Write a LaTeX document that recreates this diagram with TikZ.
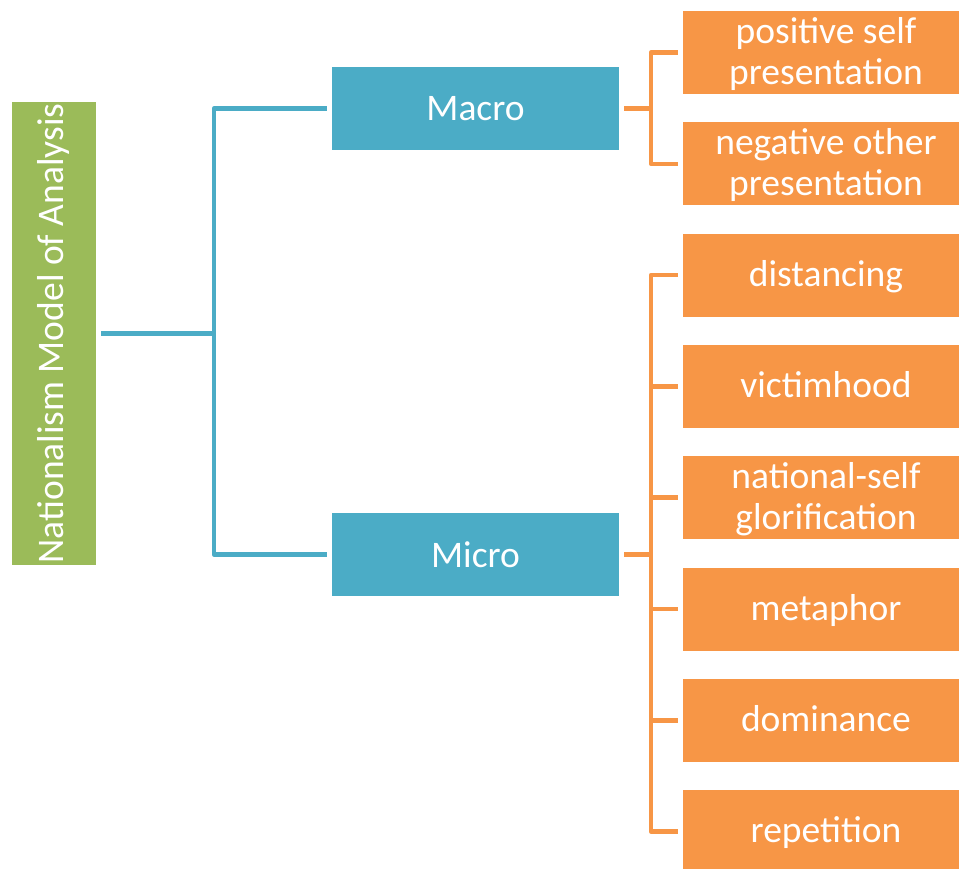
\documentclass[tikz,border=0pt]{standalone}
\usepackage{fontspec}
\setmainfont{Carlito}
\definecolor{cgreen}{HTML}{9BBB59}
\definecolor{cblue}{HTML}{4BACC6}
\definecolor{corange}{HTML}{F79646}
\newcommand\otxt[1]{\raisebox{-3pt}[\height][\depth]{\begin{tabular}{@{}c@{}}#1\end{tabular}}}
\begin{document}
\begin{tikzpicture}[x=1pt,y=-1pt,
  box/.style={rectangle, inner sep=0pt, text=white, align=center,
    font=\fontsize{37.5}{41}\selectfont},
  greenbox/.style={box, fill=cgreen, minimum width=84pt, minimum height=463pt},
  bluebox/.style={box, fill=cblue, minimum width=287pt, minimum height=83pt},
  orangebox/.style={box, fill=corange, minimum width=286pt, minimum height=83pt},
  bline/.style={draw=cblue, line width=4.5pt, line join=round},
  oline/.style={draw=corange, line width=4.5pt, line join=round}]
\useasboundingbox (0,0) rectangle (959,869);
\node[greenbox] (green) at (54,333.5) {};
\node[rotate=90, text=white, font=\fontsize{37.5}{41}\selectfont] (greentext) at (green.center) {Nationalism Model of Analysis};
\node[bluebox] (macro) at (475.5,108.5) {Macro};
\node[bluebox] (micro) at (475.5,554.5) {Micro};
\node[orangebox] (o1) at (826,52.5) {\otxt{positive self\\presentation}};
\node[orangebox] (o2) at (826,163.8) {\otxt{negative other\\presentation}};
\node[orangebox] (o3) at (826,275.1) {\otxt{distancing}};
\node[orangebox] (o4) at (826,386.4) {\otxt{victimhood}};
\node[orangebox] (o5) at (826,497.7) {\otxt{national-self\\glorification}};
\node[orangebox] (o6) at (826,609) {\otxt{metaphor}};
\node[orangebox] (o7) at (826,720.3) {\otxt{dominance}};
\node[orangebox] (o8) at (826,831.6) {\otxt{repetition}};
% blue connectors
\coordinate (bj) at (214,333.5);
\draw[bline, shorten <=5pt] (green.east) -- (bj);
\draw[bline, shorten >=5pt] (bj) |- (macro.west);
\draw[bline, shorten >=5pt] (bj) |- (micro.west);
% orange connectors
\coordinate (oj1) at (651,108.5);
\coordinate (oj2) at (651,554.5);
\draw[oline, shorten <=5pt] (macro.east) -- (oj1);
\draw[oline, shorten >=5pt] (oj1) |- (o1.west);
\draw[oline, shorten >=5pt] (oj1) |- (o2.west);
\draw[oline, shorten <=5pt] (micro.east) -- (oj2);
\foreach \n in {o3,o4,o5,o6,o7,o8}{
  \draw[oline, shorten >=5pt] (oj2) |- (\n.west);
}
\end{tikzpicture}
\end{document}
